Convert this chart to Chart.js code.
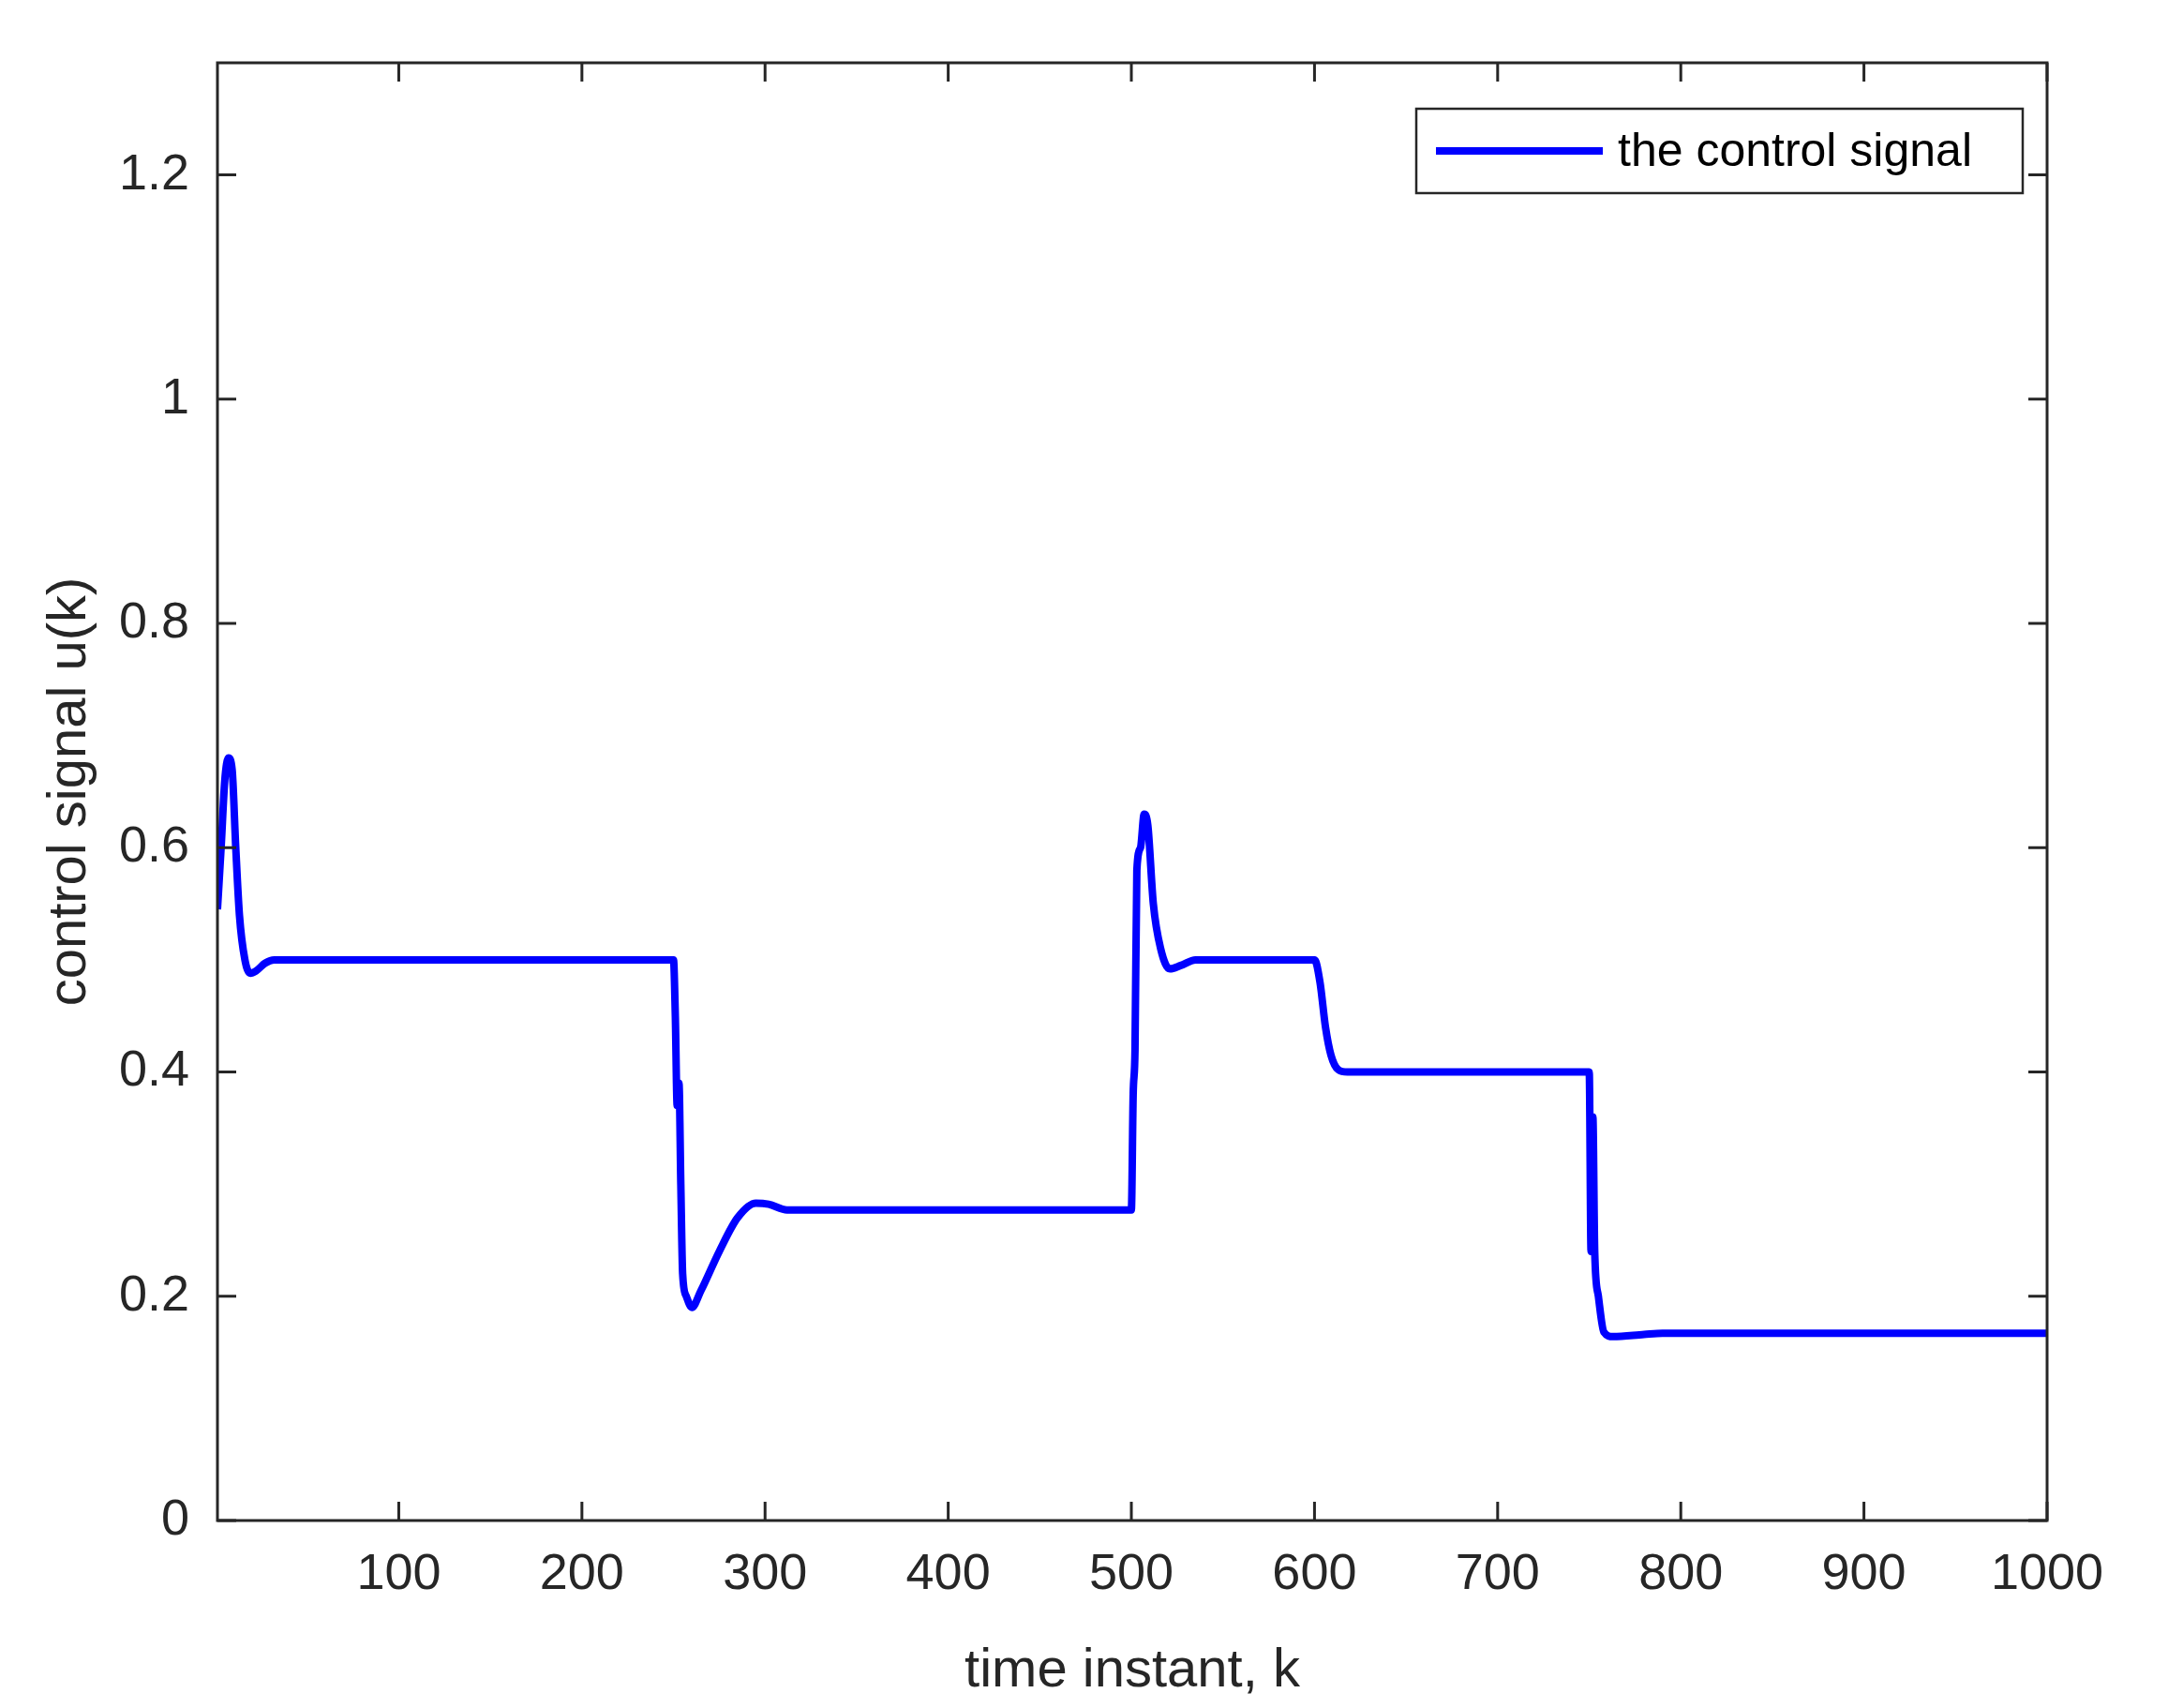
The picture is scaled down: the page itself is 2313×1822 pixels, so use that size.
<!DOCTYPE html>
<html><head><meta charset="utf-8">
<script src="https://cdn.jsdelivr.net/npm/chart.js@4.4.1/dist/chart.umd.min.js"></script>
<style>html,body{margin:0;background:#fff}canvas{display:block}</style>
</head><body>
<canvas id="c" width="2313" height="1822"></canvas>
<script>
// time instants and control signal
const kValues = [1,3,5,7,9,11,13,16,19,22,27,32,250,251,252,253,254,255,257,260,265,275,285,295,302,312,330,500,501,502,503,505,507,509,512,516,521,527,535,600,603,606,609,613,618,750,751,752,753,755,758,763,780,790,1000];
const uValues = [0.545,0.6,0.66,0.68,0.67,0.6,0.54,0.5,0.488,0.49,0.497,0.5,0.5,0.45,0.37,0.39,0.3,0.22,0.2,0.19,0.205,0.24,0.27,0.283,0.282,0.277,0.277,0.277,0.38,0.42,0.58,0.6,0.63,0.62,0.55,0.51,0.492,0.495,0.5,0.5,0.48,0.44,0.415,0.402,0.4,0.4,0.24,0.36,0.24,0.2,0.168,0.164,0.166,0.167,0.167];
const xTicks = [100,200,300,400,500,600,700,800,900,1000];
const yTicks = [0,0.2,0.4,0.6,0.8,1,1.2];
const seriesName = "the control signal";

const font = "Liberation Sans, Arial, sans-serif";
const ink = "#262626";

const boxPlugin = {
    id: "box",
    afterDatasetsDraw(chart) {
        const ctx = chart.ctx, a = chart.chartArea;
        const xs = chart.scales.x, ys = chart.scales.y;
        ctx.save();
        ctx.strokeStyle = ink;
        ctx.lineWidth = 3;
        ctx.strokeRect(a.left, a.top, a.right - a.left, a.bottom - a.top);
        ctx.beginPath();
        xTicks.forEach(t => {
            const px = xs.getPixelForValue(t);
            ctx.moveTo(px, a.bottom); ctx.lineTo(px, a.bottom - 20);
            ctx.moveTo(px, a.top); ctx.lineTo(px, a.top + 20);
        });
        yTicks.forEach(t => {
            const py = ys.getPixelForValue(t);
            ctx.moveTo(a.left, py); ctx.lineTo(a.left + 20, py);
            ctx.moveTo(a.right, py); ctx.lineTo(a.right - 20, py);
        });
        ctx.stroke();
        // legend
        ctx.fillStyle = "#fff";
        ctx.fillRect(1511, 116, 647, 90);
        ctx.lineWidth = 2.5;
        ctx.strokeRect(1511, 116, 647, 90);
        ctx.strokeStyle = "#0000ff";
        ctx.lineWidth = 8;
        ctx.beginPath(); ctx.moveTo(1532, 161); ctx.lineTo(1710, 161); ctx.stroke();
        ctx.fillStyle = "#000";
        ctx.font = "50px " + font;
        ctx.textBaseline = "middle";
        ctx.fillText(seriesName, 1726, 163);
        ctx.restore();
    }
};

new Chart(document.getElementById("c"), {
    type: "line",
    data: {
        datasets: [{
            label: seriesName,
            data: kValues.map((k, i) => ({ x: k, y: uValues[i] })),
            borderColor: "#0000ff",
            borderWidth: 8,
            pointRadius: 0,
            cubicInterpolationMode: "monotone"
        }]
    },
    options: {
        responsive: false,
        animation: false,
        layout: { padding: { top: 67, right: 129, left: 0, bottom: 0 } },
        plugins: { legend: { display: false }, tooltip: { enabled: false } },
        scales: {
            x: {
                type: "linear", min: 1, max: 1000,
                afterBuildTicks: s => { s.ticks = xTicks.map(v => ({ value: v })); },
                afterFit: s => { s.height = 200; },
                grid: { display: false }, border: { display: false },
                ticks: { color: ink, font: { family: font, size: 54 }, padding: 18, maxRotation: 0, callback: v => String(v) },
                title: { display: true, text: "time instant, k", color: ink, font: { family: font, size: 58 }, padding: { top: 0 } }
            },
            y: {
                min: 0, max: 1.3,
                afterBuildTicks: s => { s.ticks = yTicks.map(v => ({ value: v })); },
                afterFit: s => { s.width = 232; },
                grid: { display: false }, border: { display: false },
                ticks: { color: ink, font: { family: font, size: 54 }, padding: 22, callback: v => String(v) },
                title: { display: true, text: "control signal u(k)", color: ink, font: { family: font, size: 58 }, padding: { top: 40, bottom: 6 } }
            }
        }
    },
    plugins: [boxPlugin]
});
</script>
</body></html>
